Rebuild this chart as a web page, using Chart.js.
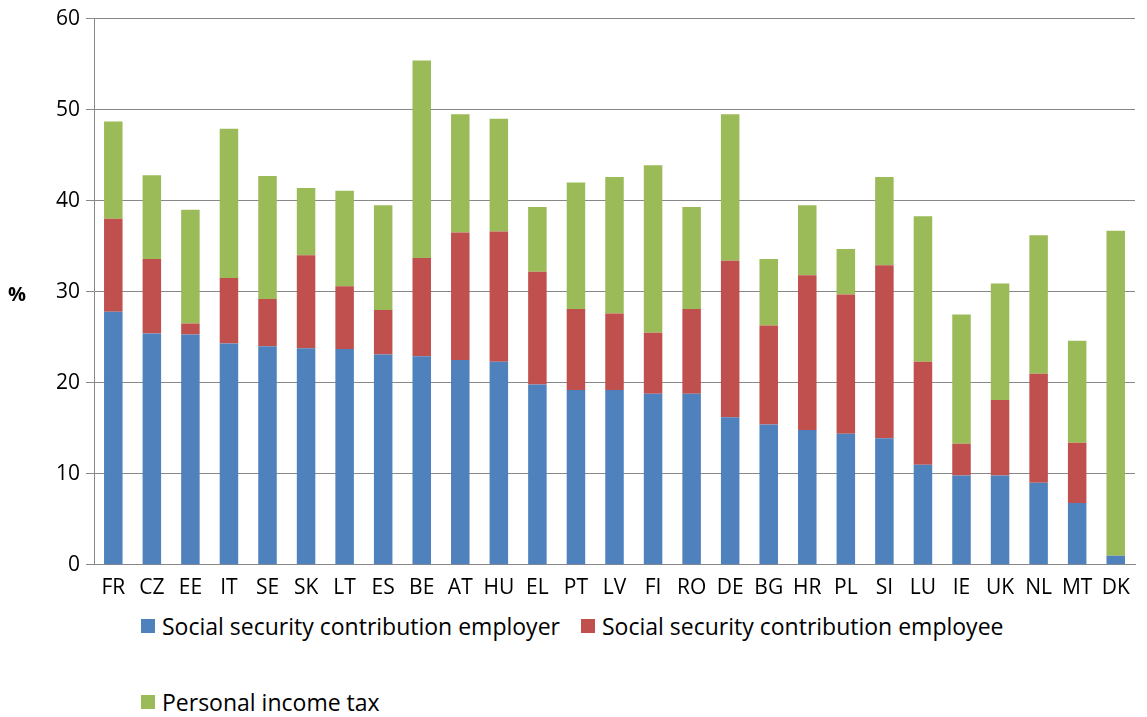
<!DOCTYPE html>
<html><head><meta charset="utf-8">
<script src="https://cdn.jsdelivr.net/npm/chart.js@4"></script>
<style>
body{margin:0;background:#fff;font-family:"Open Sans",sans-serif;}
#wrap{position:absolute;left:0;top:0;width:1147px;height:604px;}
.pct{position:absolute;left:8px;top:280px;font-size:20px;font-weight:bold;color:#000;}
.lg{position:absolute;font-size:23px;color:#000;display:flex;align-items:center;}
.sw{width:14px;height:14px;margin-right:7px;display:inline-block;}
</style></head><body>
<div id="wrap"><canvas id="c"></canvas></div>
<div class="pct">%</div>
<div class="lg" style="left:141px;top:610px"><span class="sw" style="background:#4F81BD"></span>Social security contribution employer</div>
<div class="lg" style="left:581px;top:610px"><span class="sw" style="background:#C0504D"></span>Social security contribution employee</div>
<div class="lg" style="left:141px;top:686px"><span class="sw" style="background:#9BBB59"></span>Personal income tax</div>
<script>
const categories=["FR","CZ","EE","IT","SE","SK","LT","ES","BE","AT","HU","EL","PT","LV","FI","RO","DE","BG","HR","PL","SI","LU","IE","UK","NL","MT","DK"];
const employer=[27.8,25.4,25.3,24.3,24.0,23.8,23.7,23.1,22.9,22.5,22.3,19.8,19.2,19.2,18.8,18.8,16.2,15.4,14.8,14.4,13.9,11.0,9.8,9.8,9.0,6.8,1.0];
const employee=[10.2,8.2,1.2,7.2,5.2,10.2,6.9,4.9,10.8,14.0,14.3,12.4,8.9,8.4,6.7,9.3,17.2,10.9,17.0,15.3,19.0,11.3,3.5,8.3,12.0,6.6,0.0];
const incomeTax=[10.7,9.2,12.5,16.4,13.5,7.4,10.5,11.5,21.7,13.0,12.4,7.1,13.9,15.0,18.4,11.2,16.1,7.3,7.7,5.0,9.7,16.0,14.2,12.8,15.2,11.2,35.7];
const yTicks=[0,10,20,30,40,50,60];
new Chart(document.getElementById('c'),{type:'bar',
data:{labels:categories,datasets:[
{label:'Social security contribution employer',data:employer,backgroundColor:'#4F81BD'},
{label:'Social security contribution employee',data:employee,backgroundColor:'#C0504D'},
{label:'Personal income tax',data:incomeTax,backgroundColor:'#9BBB59'}]},
options:{responsive:true,maintainAspectRatio:false,animation:false,
layout:{padding:{left:50,right:12,top:6,bottom:0}},
plugins:{legend:{display:false},tooltip:{enabled:false}},
datasets:{bar:{categoryPercentage:1,barPercentage:0.48}},
scales:{x:{stacked:true,grid:{display:false},border:{color:'#888'},ticks:{color:'#000',font:{size:21,family:'Open Sans'}}},
y:{stacked:true,min:0,max:60,afterBuildTicks:a=>{a.ticks=yTicks.map(v=>({value:v}));},
grid:{color:'#888',tickLength:8},border:{color:'#888'},ticks:{color:'#000',font:{size:21,family:'Open Sans'},padding:6}}}}});
</script></body></html>
